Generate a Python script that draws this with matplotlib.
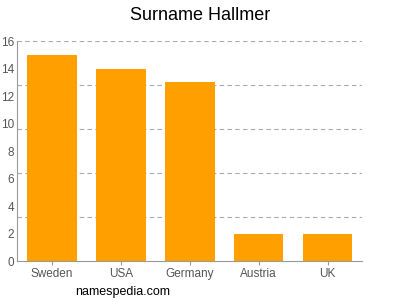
import numpy as np
import matplotlib
matplotlib.use("Agg")
from matplotlib import pyplot as plt

plt.rcParams['font.family'] = ['Liberation Sans', 'DejaVu Sans']

countries = ["Sweden", "USA", "Germany", "Austria", "UK"]
counts = [15, 14, 13, 2, 2]
y_ticks = [0, 2, 4, 6, 8, 10, 12, 14, 16]
y_max = 16

fig = plt.figure(figsize=(4, 3), dpi=100)
ax = fig.add_axes([0.0425, 0.13, 0.8625, 0.733])

x = np.arange(len(countries))
ax.bar(x, counts, width=0.72, color="#ffa000", zorder=3)

# grid lines sit at fifths of the axis, not at the tick labels
for k in range(1, 6):
    ax.axhline(y_max * k / 5, color="#aaaaaa", linestyle=(0, (4, 3)), linewidth=0.8, zorder=1)

ax.set_xlim(-0.51, 4.5)
ax.set_ylim(0, y_max)
ax.set_xticks(x)
ax.set_xticklabels(countries)
ax.set_yticks(y_ticks)
ax.tick_params(axis="both", colors="#999999", labelcolor="#555555", labelsize=8.5)
ax.tick_params(axis="x", length=3, pad=2)
ax.tick_params(axis="y", length=0, pad=2)

for side in ["top", "right"]:
    ax.spines[side].set_visible(False)
ax.spines["left"].set_color("#999999")
ax.spines["bottom"].set_color("#999999")

fig.text(0.5, 0.95, "Surname Hallmer", ha="center", va="center", fontsize=13)
fig.text(0.1875, 0.027, "namespedia.com", ha="left", va="center", fontsize=9)

fig.savefig("out.png")
